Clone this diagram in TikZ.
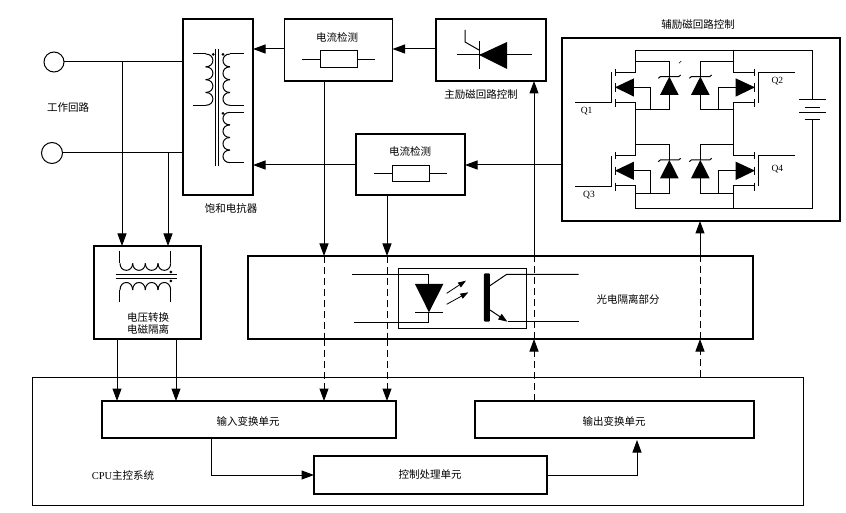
\documentclass[tikz,border=0pt]{standalone}
\usepackage{fontspec}
\setmainfont{Liberation Serif}
\newfontfamily\cjk{Noto Sans CJK SC}
\usetikzlibrary{arrows.meta,calc}
\tikzset{
  heavybox/.style={draw,line width=1.7pt,minimum width=#1,inner sep=0pt,outer sep=0pt},
  thinbox/.style={draw,line width=0.9pt,inner sep=0pt,outer sep=0pt},
  wire/.style={line width=1pt},
  solidarrow/.style={wire,-{Triangle[length=12.5pt,width=9pt]}},
  dashwire/.style={wire,dash pattern=on 7pt off 4pt},
  dasharrow/.style={dashwire,-{Triangle[length=12.5pt,width=9pt]}},
  terminal/.style={draw,circle,line width=1pt,fill=white,inner sep=0pt,outer sep=0pt},
  caption/.style={font=\cjk\fontsize{10.5pt}{12pt}\selectfont,inner sep=0pt,align=center},
  pinlabel/.style={font=\fontsize{9.5pt}{11pt}\selectfont,inner sep=0pt},
  resistor/.style={draw,line width=1pt,inner sep=0pt,outer sep=0pt,minimum width=37pt,minimum height=17pt,fill=white}
}
% Zener diode of the H bridge: tip at (#1,#2), pointing up
\newcommand{\zenerdiode}[2]{%
  \fill (#1-28,#2+55) -- (#1+28,#2+55) -- (#1,#2) -- cycle;
  \draw[wire] (#1-33,#2+5) -- (#1-27,#2) -- (#1+28,#2) -- (#1+34,#2-5);
}
% Channel, gate bar and body arrow of a MOSFET; #1 vertical offset
\newcommand{\mosleft}[1]{%
  \draw[wire] (165,177+#1) -- (165,197+#1) (165,220+#1) -- (165,245+#1) (165,268+#1) -- (165,292+#1);
  \fill (165,232+#1) -- (222,205+#1) -- (222,260+#1) -- cycle;
  \draw[wire] (222,232+#1) -- (272,232+#1) -- (272,300+#1);
}
\newcommand{\mosright}[1]{%
  \draw[wire] (585,177+#1) -- (585,197+#1) (585,220+#1) -- (585,245+#1) (585,268+#1) -- (585,292+#1);
  \fill (585,232+#1) -- (527,205+#1) -- (527,260+#1) -- cycle;
  \draw[wire] (527,232+#1) -- (475,232+#1) -- (475,300+#1);
}
\begin{document}
\begin{tikzpicture}[x=1pt,y=-1pt]
\useasboundingbox (0,0) rectangle (846,513);
\fill[white] (0,0) rectangle (846,513);

% ---- enclosing CPU frame (drawn first, the wires cross it)
\node[thinbox,minimum width=771pt,minimum height=128pt] (cpu) at (417.5,441) {};

% ---- blocks
\node[heavybox=70pt,minimum height=176pt] (reactor) at (218,107) {};
\node[heavybox=108pt,minimum height=62pt] (sense1) at (338.5,50) {};
\node[heavybox=110pt,minimum height=62pt] (thybox) at (491,50) {};
\node[heavybox=109pt,minimum height=61pt] (sense2) at (410.5,164.5) {};
\node[heavybox=278pt,minimum height=183pt] (aux) at (701,129.5) {};
\node[heavybox=107pt,minimum height=93pt] (volt) at (147.5,292.5) {};
\node[heavybox=505pt,minimum height=83pt] (opto) at (500.5,297.5) {};
\node[heavybox=294pt,minimum height=37pt] (input) at (249,419.5) {};
\node[heavybox=279pt,minimum height=37pt] (output) at (614.5,419.5) {};
\node[heavybox=233pt,minimum height=38pt] (ctrl) at (430.5,475) {};

% ---- terminals and work circuit
\node[terminal,minimum size=20pt] (t1) at (54,62) {};
\node[terminal,minimum size=21pt] (t2) at (52,153) {};
\draw[wire] (t1.east) -- (reactor.west |- t1.east);
\draw[wire] (t2.east) -- (reactor.west |- t2.east);
\draw[solidarrow] (122,0 |- t1.east) -- (122,0 |- volt.north);
\draw[solidarrow] (168,0 |- t2.east) -- (168,0 |- volt.north);
\draw[solidarrow] (117,0 |- volt.south) -- (117,0 |- input.north);
\draw[solidarrow] (176,0 |- volt.south) -- (176,0 |- input.north);

% ---- drive chain along the top
\draw[solidarrow] (thybox.west |- 0,49) -- (sense1.east |- 0,49);
\draw[solidarrow] (sense1.west |- 0,49) -- (reactor.east |- 0,49);
\draw[solidarrow] (aux.west |- 0,165) -- (sense2.east |- 0,165);
\draw[solidarrow] (sense2.west |- 0,165) -- (reactor.east |- 0,165);

% ---- sensed currents through the isolation stage
\foreach \px/\src in {324/sense1,387/sense2} {
  \draw[solidarrow] (\px,0 |- \src.south) -- (\px,0 |- opto.north);
  \draw[dashwire] (\px,0 |- opto.north) -- (\px,0 |- opto.south);
  \draw[dasharrow] (\px,0 |- opto.south) -- (\px,0 |- input.north);
}

% ---- drive signals back up
\draw[dasharrow] (534,0 |- output.north) -- (534,0 |- opto.south);
\draw[dashwire] (534,0 |- opto.south) -- (534,0 |- opto.north);
\draw[solidarrow] (534,0 |- opto.north) -- (534,0 |- thybox.south);
\draw[dasharrow] (700,0 |- cpu.north) -- (700,0 |- opto.south);
\draw[dashwire] (700,0 |- opto.south) -- (700,0 |- opto.north);
\draw[solidarrow] (700,0 |- opto.north) -- (700,0 |- aux.south);

% ---- inside the CPU system
\draw[solidarrow] (211,0 |- input.south) |- (ctrl.west);
\draw[solidarrow] (ctrl.east) -| (637,440);

% ---- captions
\node[caption] (lblwork) at (68,108) {工作回路};
\node[caption] (lblreactor) at (231,209) {饱和电抗器};
\node[caption] (lblsense1) at (337,37) {电流检测};
\node[caption] (lblsense2) at (410,151) {电流检测};
\node[caption] (lblmain) at (481,95) {主励磁回路控制};
\node[caption] (lblaux) at (698,25) {辅励磁回路控制};
\node[caption] (lblvolt) at (148,323) {电压转换\\电磁隔离};
\node[caption] (lblopto) at (628,299) {光电隔离部分};
\node[caption] (lblinput) at (248,421) {输入变换单元};
\node[caption] (lbloutput) at (614,421) {输出变换单元};
\node[caption] (lblctrl) at (430,475) {控制处理单元};
\node[caption] (lblcpu) at (123,475) {{\rmfamily CPU}主控系统};

% ---- current sense resistors
\node[resistor] (r1) at (338.5,59.5) {};
\draw[wire] (302,0 |- r1.west) -- (r1.west) (r1.east) -- (375,0 |- r1.east);
\node[resistor,minimum height=16pt] (r2) at (411,174) {};
\draw[wire] (374,0 |- r2.west) -- (r2.west) (r2.east) -- (447,0 |- r2.east);

% ---- main excitation thyristor
\draw[wire] (457,55) -- (532,55);
\fill (479,55) -- (507,42) -- (507,69) -- cycle;
\draw[wire] (479,41) -- (479,69);
\draw[wire] (465,30) -- (465,42) -- (479,50);

% ---- saturable reactor windings
\begin{scope}[shift={(30,10)},x=0.3333pt,y=-0.3333pt]
  \draw[wire] (490,132) -- (527,132) (490,286) -- (527,286);
  \foreach \yy in {132,170.5,209,247.5}
    \draw[wire] (527,\yy) .. controls (556,\yy) and (556,\yy+38.5) .. (527,\yy+38.5);
  \draw[wire] (600,132) -- (642,132) (600,286) -- (642,286);
  \foreach \yy in {132,170.5,209,247.5}
    \draw[wire] (600,\yy) .. controls (572,\yy) and (572,\yy+38.5) .. (600,\yy+38.5);
  \draw[wire] (600,307) -- (642,307) (600,458) -- (642,458);
  \foreach \yy in {307,344.75,382.5,420.25}
    \draw[wire] (600,\yy) .. controls (572,\yy) and (572,\yy+37.75) .. (600,\yy+37.75);
  \draw[wire] (556,117) -- (556,467) (566,117) -- (566,467);
  \fill (550,133) circle (4.5) (579,133) circle (4.5) (579,310) circle (4.5);
\end{scope}

% ---- voltage transformer
\begin{scope}[shift={(80,230)},x=0.3333pt,y=-0.3333pt]
  \draw[wire] (120,62) -- (120,100) (272,62) -- (272,100);
  \foreach \xx in {120,158,196,234}
    \draw[wire] (\xx,100) .. controls (\xx,128) and (\xx+38,128) .. (\xx+38,100);
  \draw[wire] (107,135) -- (290,135) (107,146) -- (290,146);
  \draw[wire] (120,215) -- (120,180) (272,215) -- (272,180);
  \foreach \xx in {120,158,196,234}
    \draw[wire] (\xx,180) .. controls (\xx,150) and (\xx+38,150) .. (\xx+38,180);
  \fill (273,126) circle (4.5) (273,153) circle (4.5);
\end{scope}

% ---- opto coupler
\node[thinbox,minimum width=128pt,minimum height=60pt] (coupler) at (462,298) {};
\begin{scope}[shift={(380,250)},x=0.3333pt,y=-0.3333pt]
  \draw[wire] (-84,73) -- (145,73) -- (145,102);
  \draw[wire] (-78,217) -- (145,217) -- (145,187);
  \fill (105,102) -- (190,102) -- (147,187) -- cycle;
  \draw[wire] (105,187) -- (190,187);
  \draw[line width=0.8pt,-{Triangle[length=8pt,width=5.5pt]}] (200,130) -- (258,92);
  \draw[line width=0.8pt,-{Triangle[length=8pt,width=5.5pt]}] (200,163) -- (265,127);
  \fill[rounded corners=1pt] (312,70) rectangle (330,215);
  \draw[wire] (330,107) -- (380,73) -- (596,73);
  \draw[wire,-{Triangle[length=9pt,width=6.5pt]}] (330,180) -- (382,215);
  \draw[wire] (385,215) -- (596,215);
\end{scope}

% ---- auxiliary excitation H bridge and battery
\begin{scope}[shift={(560,10)},x=0.3333pt,y=-0.3333pt]
  % supply rails and battery
  \draw[wire] (757,270) -- (757,122) -- (227,122) -- (227,187) -- (165,187);
  \draw[wire] (521,122) -- (521,187) -- (585,187);
  \draw[wire] (757,328) -- (757,595) -- (227,595) -- (227,528) -- (165,528);
  \draw[wire] (521,595) -- (521,528) -- (585,528);
  \draw[wire] (717,270) -- (797,270) (735,292) -- (780,292) (717,307) -- (797,307) (735,328) -- (780,328);
  % mid legs
  \draw[wire] (165,278) -- (227,278) -- (227,437) -- (165,437);
  \draw[wire] (585,278) -- (521,278) -- (521,437) -- (585,437);
  % upper clamp branches
  \draw[wire] (227,155) -- (328,155) -- (328,200) (328,255) -- (328,300) -- (227,300);
  \draw[wire] (521,155) -- (421,155) -- (421,200) (421,255) -- (421,300) -- (521,300);
  % lower clamp branches
  \draw[wire] (227,403) -- (328,403) -- (328,450) (328,505) -- (328,550) -- (227,550);
  \draw[wire] (521,405) -- (421,405) -- (421,450) (421,505) -- (421,550) -- (521,550);
  % gates
  \draw[wire] (45,277) -- (155,277) -- (155,187);
  \draw[wire] (45,530) -- (155,530) -- (155,437);
  \draw[wire] (705,187) -- (595,187) -- (595,278);
  \draw[wire] (705,437) -- (595,437) -- (595,528);
  % devices
  \mosleft{0}\mosleft{250}\mosright{0}\mosright{250}
  \zenerdiode{328}{200}\zenerdiode{421}{200}\zenerdiode{328}{450}\zenerdiode{421}{450}
  \draw[line width=0.6pt] (357,160) -- (364,153);
  \node[pinlabel] (q1) at (80,303) {Q1};
  \node[pinlabel] (q2) at (652,212) {Q2};
  \node[pinlabel] (q3) at (87,555) {Q3};
  \node[pinlabel] (q4) at (652,477) {Q4};
\end{scope}
\end{tikzpicture}
\end{document}
